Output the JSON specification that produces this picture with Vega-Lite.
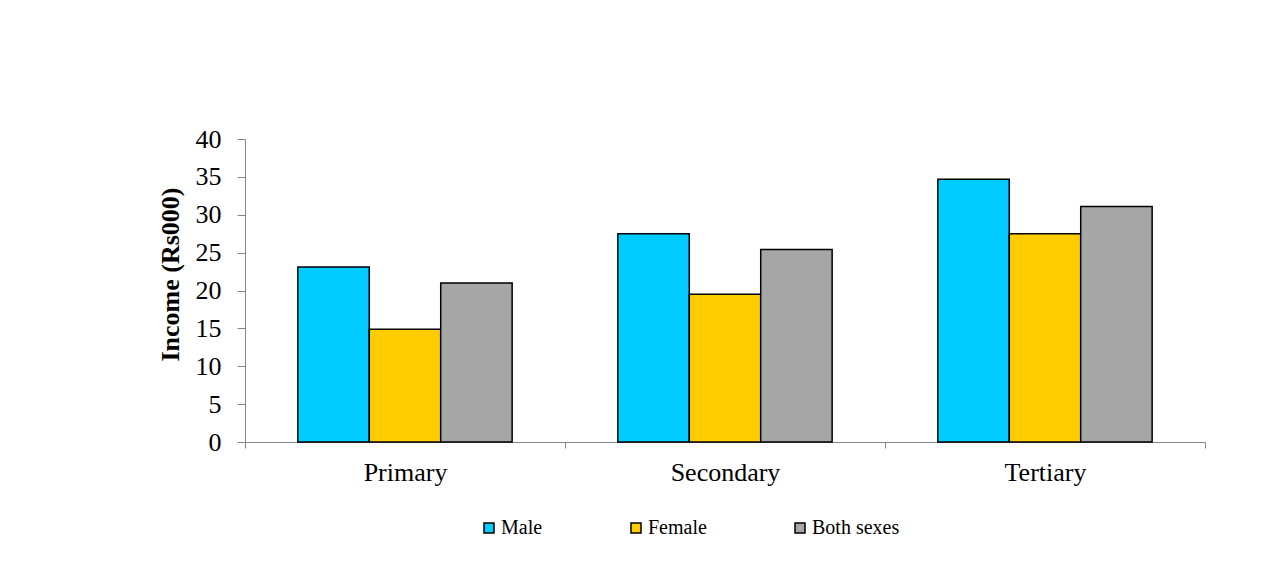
{
  "$schema": "https://vega.github.io/schema/vega-lite/v6.json",
  "autosize": "none",
  "width": 960,
  "height": 303,
  "padding": {"left": 245, "top": 139, "right": 60, "bottom": 121},
  "background": "white",
  "data": {
    "values": [
      {"level": "Primary", "sex": "Male", "income": 23.1},
      {"level": "Primary", "sex": "Female", "income": 14.9},
      {"level": "Primary", "sex": "Both sexes", "income": 21.0},
      {"level": "Secondary", "sex": "Male", "income": 27.5},
      {"level": "Secondary", "sex": "Female", "income": 19.5},
      {"level": "Secondary", "sex": "Both sexes", "income": 25.4},
      {"level": "Tertiary", "sex": "Male", "income": 34.7},
      {"level": "Tertiary", "sex": "Female", "income": 27.5},
      {"level": "Tertiary", "sex": "Both sexes", "income": 31.1}
    ]
  },
  "config": {
    "view": {"stroke": null},
    "font": "Liberation Serif"
  },
  "mark": {"type": "bar", "stroke": "black", "strokeWidth": 1.5},
  "encoding": {
    "x": {
      "field": "level",
      "type": "nominal",
      "sort": ["Primary", "Secondary", "Tertiary"],
      "scale": {"paddingInner": 0, "paddingOuter": 0},
      "axis": {
        "title": null,
        "labelAngle": 0,
        "labelFont": "Liberation Serif",
        "labelFontSize": 26,
        "labelColor": "black",
        "labelPadding": 11,
        "tickBand": "extent",
        "tickSize": 6,
        "tickColor": "#868686",
        "domainColor": "#868686",
        "grid": false
      }
    },
    "xOffset": {
      "field": "sex",
      "type": "nominal",
      "sort": ["Male", "Female", "Both sexes"],
      "scale": {"paddingInner": 0, "paddingOuter": 0.74}
    },
    "y": {
      "field": "income",
      "type": "quantitative",
      "scale": {"domain": [0, 40]},
      "axis": {
        "title": "Income (Rs000)",
        "titleFont": "Liberation Serif",
        "titleFontSize": 26,
        "titleFontWeight": "bold",
        "titleColor": "black",
        "titlePadding": 12,
        "titleY": 135,
        "values": [0, 5, 10, 15, 20, 25, 30, 35, 40],
        "labelFont": "Liberation Serif",
        "labelFontSize": 26,
        "labelColor": "black",
        "labelPadding": 16,
        "tickSize": 8,
        "tickColor": "#868686",
        "domainColor": "#868686",
        "grid": false
      }
    },
    "color": {
      "field": "sex",
      "type": "nominal",
      "sort": ["Male", "Female", "Both sexes"],
      "scale": {"domain": ["Male", "Female", "Both sexes"], "range": ["#00CCFF", "#FFCC00", "#A6A6A6"]},
      "legend": {
        "title": null,
        "orient": "none",
        "direction": "horizontal",
        "legendX": 234,
        "legendY": 379,
        "padding": 0,
        "columnPadding": 83,
        "symbolType": "square",
        "symbolSize": 100,
        "symbolStrokeColor": "black",
        "symbolStrokeWidth": 1.5,
        "labelOffset": 2,
        "labelFont": "Liberation Serif",
        "labelFontSize": 20,
        "labelColor": "black"
      }
    }
  }
}
